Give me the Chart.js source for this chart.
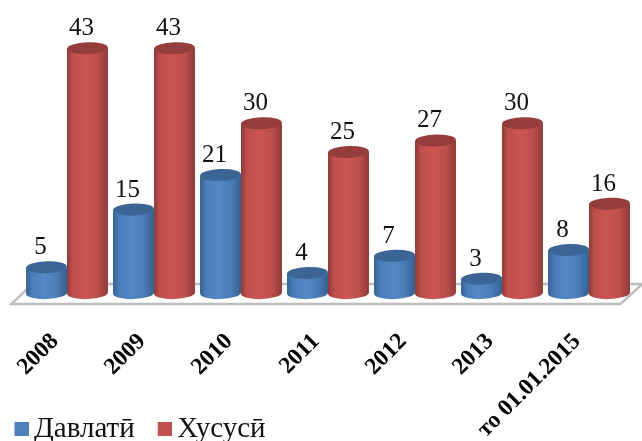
<!DOCTYPE html>
<html><head><meta charset="utf-8">
<style>html,body{margin:0;padding:0;background:#fff}#w{width:642px;height:441px}</style>
<script src="https://cdn.jsdelivr.net/npm/chart.js@4"></script></head>
<body><div id="w"><canvas id="c" width="642" height="441"></canvas></div>
<script>
const categories = ['2008','2009','2010','2011','2012','2013','то 01.01.2015'];
const seriesState = [5,15,21,4,7,3,8];
const seriesPrivate = [43,43,30,25,27,30,16];
const seriesNames = ['Давлатӣ','Хусусӣ'];
const SERIF = '"Liberation Serif","Times New Roman",serif';
const shades = [
  {base:'#4f81bd', edge:'#35618f', mid:'#4a7cb8', light:'#5688c6', top:'#3a6595'},
  {base:'#c0504d', edge:'#8f3a38', mid:'#bd4f4c', light:'#cc5552', top:'#953d3b'}
];
const TILT = -0.035, RY = 6;
const BOTTOM_PAD = -12.5;
function swatch(color){
  const cv = document.createElement('canvas');
  cv.width = 19; cv.height = 14;
  const c = cv.getContext('2d');
  c.fillStyle = color; c.fillRect(5,0,14,14);
  return cv;
}
function cylinder(ctx, el, s){
  const w = el.width, x0 = el.x - w/2, x1 = el.x + w/2, rx = w/2;
  const g = ctx.createLinearGradient(x0,0,x1,0);
  g.addColorStop(0,s.edge); g.addColorStop(.14,s.mid); g.addColorStop(.45,s.light);
  g.addColorStop(.75,s.mid); g.addColorStop(1,s.edge);
  ctx.save();
  ctx.fillStyle = g;
  ctx.beginPath();
  ctx.ellipse(el.x, el.base, rx, RY, TILT, 0, Math.PI);
  ctx.ellipse(el.x, el.y, rx, RY, TILT, Math.PI, 0, true);
  ctx.closePath();
  ctx.fill();
  ctx.fillStyle = s.top;
  ctx.beginPath();
  ctx.ellipse(el.x, el.y, rx, RY, TILT, 0, Math.PI*2);
  ctx.fill();
  ctx.restore();
}
const cylinders = {
  id:'cylinders',
  afterLayout(chart){ chart.scales.x.bottom = chart.height; },
  beforeDatasetsDraw(chart){
    const {ctx, chartArea:a} = chart;
    ctx.save();
    ctx.strokeStyle='#bdbdbd'; ctx.lineWidth=2.4; ctx.lineJoin='miter';
    ctx.beginPath();
    ctx.moveTo(a.left-12, a.bottom+8);
    ctx.lineTo(a.right-12, a.bottom+8);
    ctx.lineTo(a.right+10, a.bottom-12);
    ctx.lineTo(a.left+9, a.bottom-12);
    ctx.closePath(); ctx.stroke();
    ctx.restore();
  },
  afterDatasetsDraw(chart){
    const {ctx} = chart;
    categories.forEach((_,i)=>{
      [0,1].forEach(d=>cylinder(ctx, chart.getDatasetMeta(d).data[i], shades[d]));
    });
    ctx.save();
    ctx.font = '25px '+SERIF; ctx.fillStyle='#111'; ctx.textAlign='center'; ctx.textBaseline='alphabetic';
    [0,1].forEach(d=>{
      chart.getDatasetMeta(d).data.forEach((el,i)=>{
        ctx.fillText(String(chart.data.datasets[d].data[i]), el.x-6, el.y-13);
      });
    });
    ctx.restore();
  }
};
new Chart(document.getElementById('c'),{
  type:'bar',
  data:{labels:categories,datasets:[
    {label:seriesNames[0],data:seriesState,backgroundColor:shades[0].base,base:0.5},
    {label:seriesNames[1],data:seriesPrivate,backgroundColor:shades[1].base,base:0.5}
  ]},
  options:{
    responsive:false,animation:false,
    layout:{padding:{left:-8.5,right:9.5,top:8,bottom:BOTTOM_PAD}},
    datasets:{bar:{categoryPercentage:.94,barPercentage:1}},
    plugins:{
      tooltip:{enabled:false},
      legend:{position:'bottom',align:'start',
        labels:{color:'#111',font:{family:SERIF,size:29,lineHeight:1},boxWidth:1,boxHeight:1,padding:27,usePointStyle:true,
          generateLabels(chart){
            return Chart.defaults.plugins.legend.labels.generateLabels(chart).map((it,i)=>{
              it.pointStyle = swatch(shades[i].base); return it;
            });
          }}}
    },
    scales:{
      x:{grid:{display:false},border:{display:false},
        ticks:{autoSkip:false,maxRotation:45,minRotation:45,padding:24,labelOffset:-12,color:'#000',
          font:{family:SERIF,size:23.5,weight:'bold'}},
        afterFit(s){s.paddingLeft=0;s.paddingRight=0;
          const lh=s.chart.legend?s.chart.legend.height:0;
          s.height=441-BOTTOM_PAD-lh-296;}
      },
      y:{min:0,max:50,grid:{display:false},border:{display:false},ticks:{display:false},
        afterFit(s){s.width=32;s.paddingTop=0;s.paddingBottom=0;}}
    }
  },
  plugins:[cylinders]
});
</script></body></html>
